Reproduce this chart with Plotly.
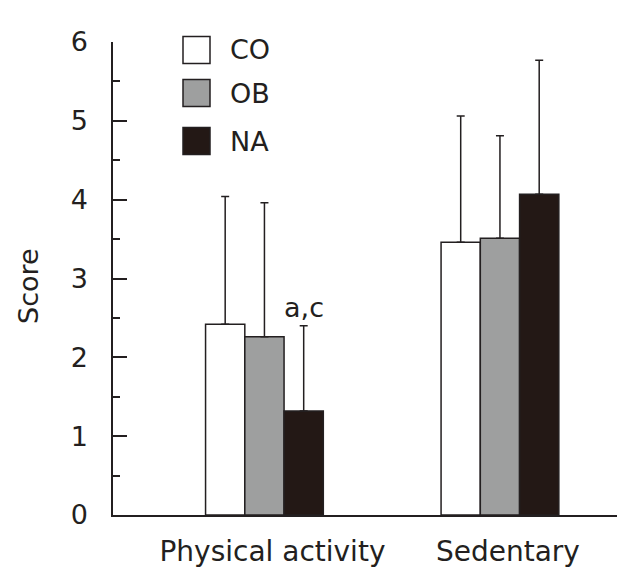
import plotly.graph_objects as go

categories = ["Physical activity", "Sedentary"]
series_names = ["CO", "OB", "NA"]
co_values = [2.42, 3.46]
ob_values = [2.26, 3.51]
na_values = [1.32, 4.07]
co_upper = [4.04, 5.06]
ob_upper = [3.96, 4.81]
na_upper = [2.40, 5.77]
y_ticks = [0, 1, 2, 3, 4, 5, 6]
sig_label = "a,c"

INK = "#231f20"
colors = ["#ffffff", "#9e9f9f", "#231815"]
FONT = "DejaVu Sans"

values = [co_values, ob_values, na_values]
uppers = [co_upper, ob_upper, na_upper]

fig = go.Figure()
for name, vals, up, col in zip(series_names, values, uppers, colors):
    fig.add_trace(go.Bar(
        x=categories, y=vals, name=name,
        marker=dict(color=col, line=dict(color=INK, width=1.5)),
        error_y=dict(type="data", symmetric=False,
                     array=[u - v for u, v in zip(up, vals)],
                     arrayminus=[0] * len(vals),
                     color=INK, thickness=1.5, width=4),
        showlegend=False,
    ))

# page offset (body margin) between figure and screenshot coordinates
OFF = 8
W, H = 630, 586
L, R, T, B = 105, 21, 34, 79
pw, ph = W - L - R, H - T - B
def px_x(p):
    return (p - OFF - L) / pw
def px_y(p):
    return (H - B - (p - OFF)) / ph

legend_centers = [50, 93, 141]
for name, col, cy in zip(series_names, colors, legend_centers):
    fig.add_shape(type="rect", xref="paper", yref="paper",
                  x0=px_x(183), x1=px_x(210), y0=px_y(cy + 13.5), y1=px_y(cy - 13.5),
                  fillcolor=col, line=dict(color=INK, width=1.5))
    fig.add_annotation(xref="paper", yref="paper", x=px_x(228), y=px_y(cy),
                       text=name, showarrow=False, xanchor="left", yanchor="middle",
                       font=dict(family=FONT, size=27, color=INK))

# significance marker above NA bar of first category
fig.add_annotation(xref="x", yref="y", x=1 / 6, y=na_upper[0], text=sig_label,
                   showarrow=False, xanchor="center", yanchor="bottom", yshift=1,
                   font=dict(family=FONT, size=27, color=INK))

# y-axis title
fig.add_annotation(xref="paper", yref="paper", x=px_x(28), y=px_y(286), text="Score",
                   textangle=-90, showarrow=False, xanchor="center", yanchor="middle",
                   font=dict(family=FONT, size=27, color=INK))

fig.update_layout(
    width=W, height=H,
    margin=dict(l=L, r=R, t=T, b=B, autoexpand=False),
    paper_bgcolor="white", plot_bgcolor="white",
    barmode="group", bargap=0.5, bargroupgap=0,
    font=dict(family=FONT, color=INK),
    xaxis=dict(type="category", range=[-0.643, 1.497], showline=True, linecolor=INK,
               linewidth=1.5, ticks="", showgrid=False, zeroline=False,
               tickfont=dict(family=FONT, size=28, color=INK), ticklabelstandoff=11,
               ticklabelshift=8),
    yaxis=dict(range=[0, 6], tickvals=y_ticks, showline=True, linecolor=INK, linewidth=1.5,
               ticks="inside", ticklen=14, tickwidth=1.5, tickcolor=INK,
               minor=dict(dtick=0.5, ticks="inside", ticklen=7, tickwidth=1.5, tickcolor=INK),
               showgrid=False, zeroline=False,
               tickfont=dict(family=FONT, size=27, color=INK), ticklabelstandoff=18),
)

fig.write_html("out.html")
